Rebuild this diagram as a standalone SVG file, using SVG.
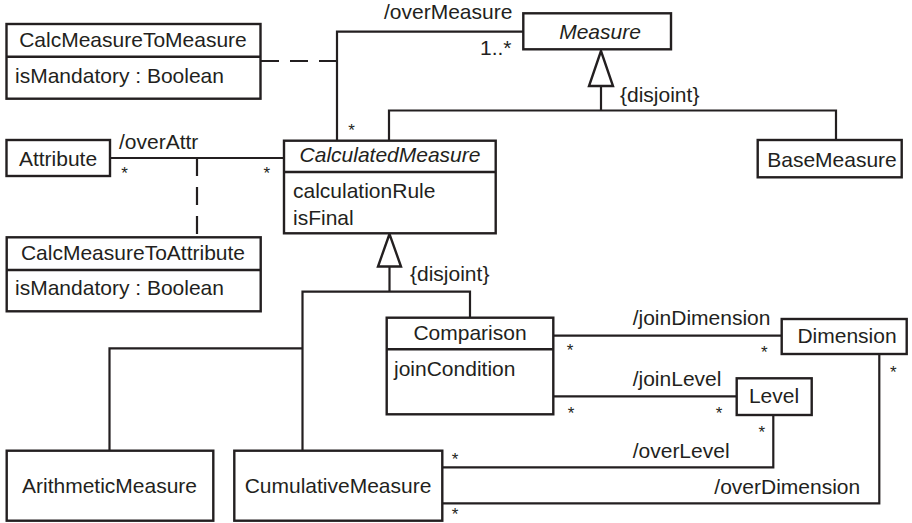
<svg xmlns="http://www.w3.org/2000/svg" width="912" height="523" viewBox="0 0 912 523">
  <defs>
    <style>
      text { font-family: "Liberation Sans", Arial, sans-serif; font-size: 21px; fill: #231f20; }
      .it { font-style: italic; }
      .c { text-anchor: middle; }
      .m { font-size: 17px; text-anchor: middle; }
      .box { fill: #ffffff; stroke: #231f20; stroke-width: 2.4; }
      .div { stroke: #231f20; stroke-width: 2.4; }
      .ln { fill: none; stroke: #231f20; stroke-width: 2.2; }
      .dash { fill: none; stroke: #231f20; stroke-width: 2.2; stroke-dasharray: 18 11; }
      .tri { fill: #ffffff; stroke: #231f20; stroke-width: 2.4; stroke-linejoin: miter; }
    </style>
  </defs>

  <!-- connectors -->
  <g id="connectors">
    <!-- association class dashes -->
    <line class="dash" x1="261" y1="61" x2="337" y2="61"/>
    <line class="dash" x1="197" y1="158" x2="197" y2="237"/>
    <!-- /overMeasure -->
    <polyline class="ln" points="523,31.7 337,31.7 337,141"/>
    <!-- /overAttr -->
    <line class="ln" x1="110" y1="158" x2="284" y2="158"/>
    <!-- generalization Measure -->
    <polyline class="ln" points="389,141 389,110.5 836,110.5 836,140"/>
    <line class="ln" x1="601" y1="86" x2="601" y2="110.5"/>
    <polygon class="tri" points="601,51 589,86 613,86"/>
    <!-- generalization CalculatedMeasure -->
    <line class="ln" x1="389.5" y1="266.5" x2="389.5" y2="291.7"/>
    <polyline class="ln" points="302.5,450.5 302.5,291.7 470,291.7 470,318"/>
    <polyline class="ln" points="109.5,450.5 109.5,348.3 302.5,348.3"/>
    <polygon class="tri" points="389.5,234 378,266.5 401,266.5"/>
    <!-- /joinDimension -->
    <line class="ln" x1="553" y1="335.7" x2="782" y2="335.7"/>
    <!-- /joinLevel -->
    <line class="ln" x1="553" y1="396.3" x2="737" y2="396.3"/>
    <!-- /overLevel -->
    <polyline class="ln" points="442,467.3 773.3,467.3 773.3,415"/>
    <!-- /overDimension -->
    <polyline class="ln" points="442,503.3 879.3,503.3 879.3,354"/>
  </g>

  <!-- connector labels and multiplicities -->
  <g id="labels">
    <text x="384" y="19">/overMeasure</text>
    <text x="480" y="55">1..*</text>
    <text class="m" x="351.5" y="136">*</text>
    <text x="119" y="149">/overAttr</text>
    <text class="m" x="124.5" y="178.5">*</text>
    <text class="m" x="266.7" y="178.5">*</text>
    <text x="620" y="101.5">{disjoint}</text>
    <text x="410" y="281">{disjoint}</text>
    <text x="632.7" y="325">/joinDimension</text>
    <text class="m" x="570" y="356">*</text>
    <text class="m" x="764.3" y="357.5">*</text>
    <text x="632.7" y="385.5">/joinLevel</text>
    <text class="m" x="571" y="419.4">*</text>
    <text class="m" x="719" y="419.4">*</text>
    <text class="m" x="761.7" y="437.7">*</text>
    <text class="m" x="893.3" y="377.7">*</text>
    <text x="632.7" y="458.3">/overLevel</text>
    <text class="m" x="455" y="464.7">*</text>
    <text x="714.3" y="494">/overDimension</text>
    <text class="m" x="455" y="519.5">*</text>
  </g>

  <!-- classes -->
  <g id="CalcMeasureToMeasure">
    <rect class="box" x="6.5" y="24" width="254" height="74.7"/>
    <line class="div" x1="6.5" y1="56.7" x2="260.5" y2="56.7"/>
    <text class="c" x="133" y="47">CalcMeasureToMeasure</text>
    <text x="15" y="83">isMandatory : Boolean</text>
  </g>

  <g id="Measure">
    <rect class="box" x="523.3" y="13.3" width="147.7" height="36"/>
    <text class="c it" x="600" y="38.5">Measure</text>
  </g>

  <g id="Attribute">
    <rect class="box" x="6.5" y="140" width="103.5" height="36"/>
    <text class="c" x="58" y="165.5">Attribute</text>
  </g>

  <g id="CalculatedMeasure">
    <rect class="box" x="284" y="140.7" width="211.7" height="92.6"/>
    <line class="div" x1="284" y1="172" x2="495.7" y2="172"/>
    <text class="c it" x="390" y="162">CalculatedMeasure</text>
    <text x="293" y="198">calculationRule</text>
    <text x="293" y="225">isFinal</text>
  </g>

  <g id="BaseMeasure">
    <rect class="box" x="757.7" y="140" width="144" height="37.3"/>
    <text class="c" x="832" y="166.5">BaseMeasure</text>
  </g>

  <g id="CalcMeasureToAttribute">
    <rect class="box" x="6.7" y="237.3" width="254" height="74"/>
    <line class="div" x1="6.7" y1="270" x2="260.7" y2="270"/>
    <text class="c" x="133" y="260">CalcMeasureToAttribute</text>
    <text x="15" y="295">isMandatory : Boolean</text>
  </g>

  <g id="Comparison">
    <rect class="box" x="386.7" y="317.7" width="166.6" height="96.6"/>
    <line class="div" x1="386.7" y1="349.3" x2="553.3" y2="349.3"/>
    <text class="c" x="470" y="339.5">Comparison</text>
    <text x="394" y="376">joinCondition</text>
  </g>

  <g id="Dimension">
    <rect class="box" x="781.7" y="319" width="125" height="35"/>
    <text class="c" x="847" y="343">Dimension</text>
  </g>

  <g id="Level">
    <rect class="box" x="736.7" y="378.3" width="75" height="36.7"/>
    <text class="c" x="774" y="403">Level</text>
  </g>

  <g id="ArithmeticMeasure">
    <rect class="box" x="6.7" y="450.7" width="206.6" height="70"/>
    <text class="c" x="109.5" y="492.5">ArithmeticMeasure</text>
  </g>

  <g id="CumulativeMeasure">
    <rect class="box" x="234.3" y="450.7" width="208" height="70"/>
    <text class="c" x="338" y="492.5">CumulativeMeasure</text>
  </g>
</svg>
